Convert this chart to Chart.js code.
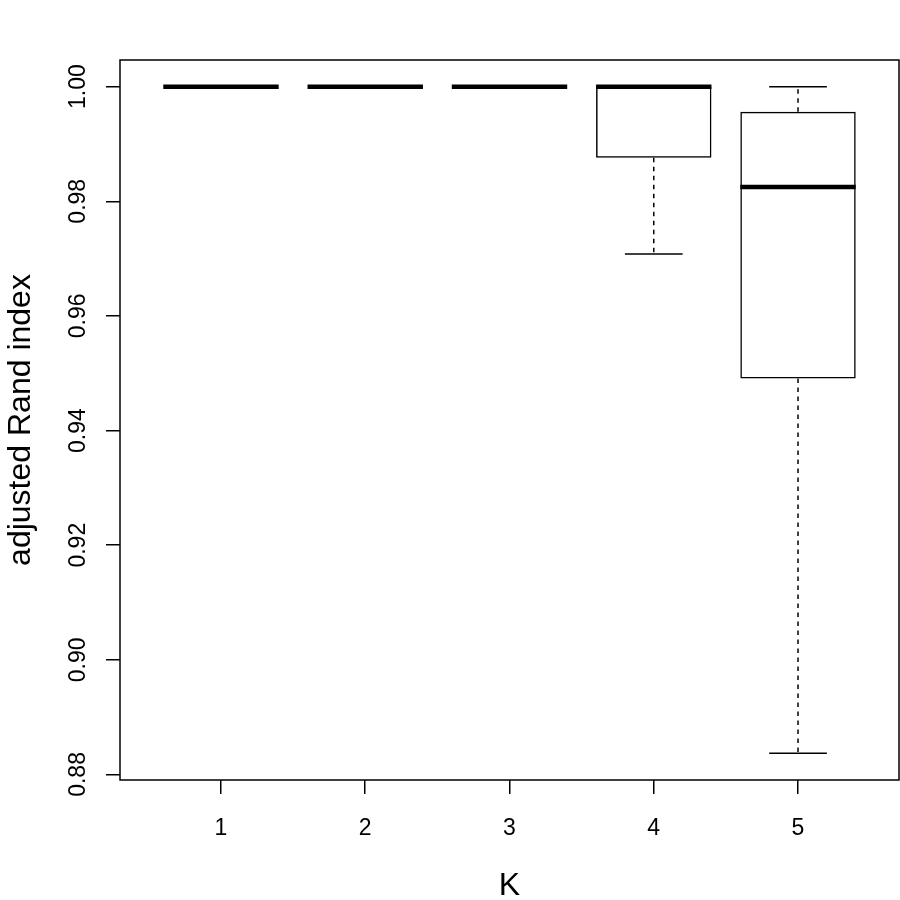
<!DOCTYPE html>
<html>
<head>
<meta charset="utf-8">
<script src="https://cdn.jsdelivr.net/npm/chart.js@4/dist/chart.umd.min.js"></script>
<style>
  body { margin: 0; background: #fff; }
  #wrap { width: 900px; height: 900px; }
</style>
</head>
<body>
<div id="wrap"><canvas id="boxChart" width="900" height="900"></canvas></div>
<script>
// values
const categories = [1, 2, 3, 4, 5];
const lowerWhisker = [1, 1, 1, 0.9708, 0.8837];
const q1 = [1, 1, 1, 0.9876, 0.9491];
const median = [1, 1, 1, 1, 0.9825];
const q3 = [1, 1, 1, 1, 0.9956];
const upperWhisker = [1, 1, 1, 1, 1];
const yTicks = [0.88, 0.90, 0.92, 0.94, 0.96, 0.98, 1.00];
const xTitle = "K";
const yTitle = "adjusted Rand index";

const FONT = "'Liberation Sans', Arial, Helvetica, sans-serif";

// whiskers, staples, medians, frame and labels drawn on top of the bars
const boxPlugin = {
    id: "boxExtras",
    afterDatasetsDraw(chart) {
        const ctx = chart.ctx;
        const xs = chart.scales.x;
        const ys = chart.scales.y;
        const meta = chart.getDatasetMeta(0);
        const area = chart.chartArea;

        ctx.save();
        ctx.strokeStyle = "#000";

        categories.forEach((c, i) => {
            const px = xs.getPixelForValue(c);
            const w = meta.data[i].width;

            // dashed whiskers
            ctx.lineWidth = 1.5;
            ctx.setLineDash([4.5, 4.5]);
            if (upperWhisker[i] > q3[i]) {
                ctx.beginPath();
                ctx.moveTo(px, ys.getPixelForValue(q3[i]));
                ctx.lineTo(px, ys.getPixelForValue(upperWhisker[i]));
                ctx.stroke();
            }
            if (lowerWhisker[i] < q1[i]) {
                ctx.beginPath();
                ctx.moveTo(px, ys.getPixelForValue(q1[i]));
                ctx.lineTo(px, ys.getPixelForValue(lowerWhisker[i]));
                ctx.stroke();
            }
            ctx.setLineDash([]);

            // staples
            [upperWhisker[i], lowerWhisker[i]].forEach(v => {
                const py = ys.getPixelForValue(v);
                ctx.beginPath();
                ctx.moveTo(px - w / 4, py);
                ctx.lineTo(px + w / 4, py);
                ctx.stroke();
            });

            // median
            ctx.lineWidth = 4.5;
            ctx.lineCap = "butt";
            const my = ys.getPixelForValue(median[i]);
            ctx.beginPath();
            ctx.moveTo(px - w / 2, my);
            ctx.lineTo(px + w / 2, my);
            ctx.stroke();
        });

        // plot frame
        ctx.lineWidth = 1.5;
        ctx.strokeRect(area.left, area.top, area.right - area.left, area.bottom - area.top);

        // tick labels
        ctx.fillStyle = "#000";
        ctx.font = "23px " + FONT;
        ctx.textAlign = "center";
        ctx.textBaseline = "alphabetic";
        categories.forEach(c => {
            ctx.fillText(String(c), xs.getPixelForValue(c), 835);
        });
        yTicks.forEach(v => {
            ctx.save();
            ctx.translate(85, ys.getPixelForValue(v));
            ctx.rotate(-Math.PI / 2);
            ctx.fillText(v.toFixed(2), 0, 0);
            ctx.restore();
        });

        // axis titles
        ctx.font = "32px " + FONT;
        ctx.fillText(xTitle, (area.left + area.right) / 2, 895);
        ctx.save();
        ctx.translate(30, (area.top + area.bottom) / 2);
        ctx.rotate(-Math.PI / 2);
        ctx.fillText(yTitle, 0, 0);
        ctx.restore();

        ctx.restore();
    }
};

const ctx = document.getElementById("boxChart").getContext("2d");
new Chart(ctx, {
    type: "bar",
    data: {
        datasets: [{
            data: categories.map((c, i) => ({ x: c, y: [q1[i], q3[i]] })),
            backgroundColor: "rgba(255,255,255,0)",
            borderColor: "#000",
            borderWidth: 1.5,
            borderSkipped: false,
            categoryPercentage: 0.8,
            barPercentage: 1.0
        }]
    },
    options: {
        responsive: false,
        animation: false,
        devicePixelRatio: 1,
        layout: { padding: { left: 0, top: 60, right: 1, bottom: 0 } },
        plugins: {
            legend: { display: false },
            tooltip: { enabled: false }
        },
        scales: {
            x: {
                type: "linear",
                min: 0.3,
                max: 5.7,
                offset: false,
                afterBuildTicks: s => { s.ticks = categories.map(v => ({ value: v })); },
                afterFit: s => { s.height = 120; },
                ticks: { display: false },
                grid: { offset: false, drawOnChartArea: false, drawTicks: true, tickLength: 14, color: "#000", lineWidth: 1.5 },
                border: { display: false }
            },
            y: {
                min: 0.87903,
                max: 1.00465,
                afterBuildTicks: s => { s.ticks = yTicks.map(v => ({ value: v })); },
                afterFit: s => { s.width = 120; },
                ticks: { display: false },
                grid: { drawOnChartArea: false, drawTicks: true, tickLength: 14, color: "#000", lineWidth: 1.5 },
                border: { display: false }
            }
        }
    },
    plugins: [boxPlugin]
});
</script>
</body>
</html>
